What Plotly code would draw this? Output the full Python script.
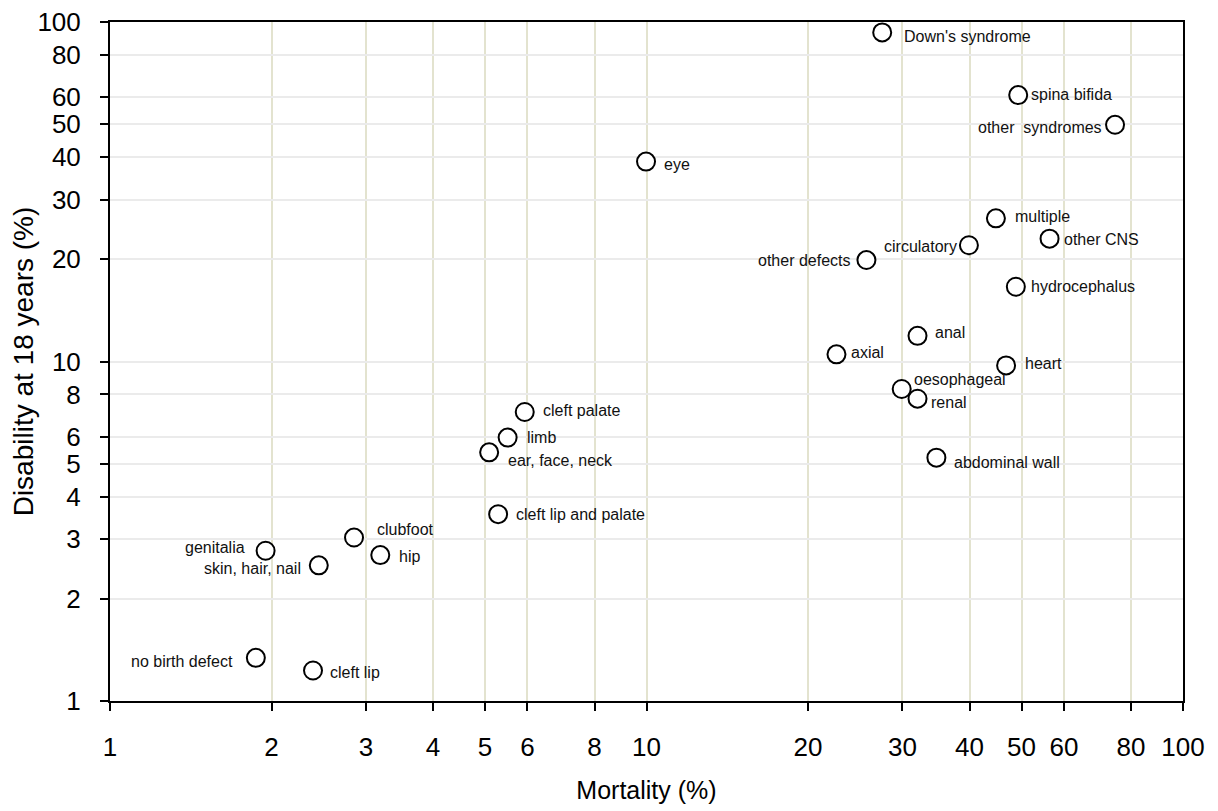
import math
import plotly.graph_objects as go

# ---- data ----
labels = ["Down's syndrome", "spina bifida", "other  syndromes", "eye", "multiple",
          "other CNS", "circulatory", "other defects", "hydrocephalus", "anal",
          "axial", "heart", "oesophageal", "renal", "abdominal wall",
          "cleft palate", "limb", "ear, face, neck", "cleft lip and palate",
          "clubfoot", "hip", "genitalia", "skin, hair, nail", "no birth defect",
          "cleft lip"]
mortality = [27.5, 49.3, 74.7, 9.98, 44.8,
             56.4, 39.9, 25.7, 48.8, 32.0,
             22.6, 46.8, 29.9, 32.0, 34.7,
             5.93, 5.51, 5.09, 5.29,
             2.85, 3.19, 1.95, 2.45, 1.87,
             2.39]
disability = [93.2, 60.9, 49.8, 38.8, 26.4,
              23.0, 22.0, 19.9, 16.6, 11.9,
              10.5, 9.74, 8.30, 7.77, 5.21,
              7.10, 5.97, 5.40, 3.55,
              3.03, 2.69, 2.77, 2.51, 1.34,
              1.23]
tick_vals = [1, 2, 3, 4, 5, 6, 8, 10, 20, 30, 40, 50, 60, 80, 100]
tick_text = [str(v) for v in tick_vals]

# ---- label placement (anchor, x offset px, y offset px) ----
label_pos = [("left", 20, -4), ("left", 11, 1), ("right", -11, -3), ("left", 16, -3), ("left", 17, 2),
             ("left", 12, -1), ("right", -10, -1), ("right", -13, 0), ("left", 13, 0), ("left", 15, 3),
             ("left", 13, 2), ("left", 17, 2), ("left", 10, 9), ("left", 11, -4), ("left", 16, -5),
             ("left", 16, 2), ("left", 17, 0), ("left", 17, -8), ("left", 16, 0),
             ("left", 21, 8), ("left", 17, -1), ("right", -19, 3), ("right", -16, -3), ("right", -21, -4),
             ("left", 15, -2)]

FONT = "Liberation Sans, Arial, sans-serif"

fig = go.Figure()
fig.add_trace(go.Scatter(
    x=mortality, y=disability, mode="markers",
    marker=dict(symbol="circle", size=18, color="white",
                line=dict(color="black", width=2)),
    hoverinfo="text", text=labels, showlegend=False,
))

# annotations on log axes are positioned in log10 units
for lab, xv, yv, (anc, dx, dy) in zip(labels, mortality, disability, label_pos):
    fig.add_annotation(x=math.log10(xv), y=math.log10(yv), xref="x", yref="y",
                       text=lab, showarrow=False,
                       xanchor=anc, yanchor="middle", xshift=dx, yshift=dy,
                       font=dict(family=FONT, size=16, color="#111111"))

axis_common = dict(
    type="log", range=[0, 2], tickmode="array", tickvals=tick_vals, ticktext=tick_text,
    showline=True, linecolor="black", linewidth=2, mirror=True,
    ticks="outside", ticklen=8, tickwidth=2, tickcolor="black",
    tickfont=dict(family=FONT, size=26, color="black"),
    ticklabeloverflow="allow", automargin=False,
    showgrid=True, zeroline=False,
)

# the page body adds an 8px offset, so the figure is sized/margined to compensate
fig.update_layout(
    width=1210, height=803,
    margin=dict(l=102, r=35, t=14, b=110),
    paper_bgcolor="white", plot_bgcolor="white",
    font=dict(family=FONT, color="black"),
    xaxis=dict(**axis_common, gridcolor="#e3e3cf", gridwidth=1.5,
               ticklabelstandoff=14,
               title=dict(text="Mortality (%)", font=dict(family=FONT, size=25, color="black"),
                          standoff=20)),
    yaxis=dict(**axis_common, gridcolor="#ebebeb", gridwidth=2,
               ticklabelstandoff=14,
               title=dict(text="Disability at 18 years (%)",
                          font=dict(family=FONT, size=28, color="black"), standoff=13)),
)

fig.write_html("out.html")
